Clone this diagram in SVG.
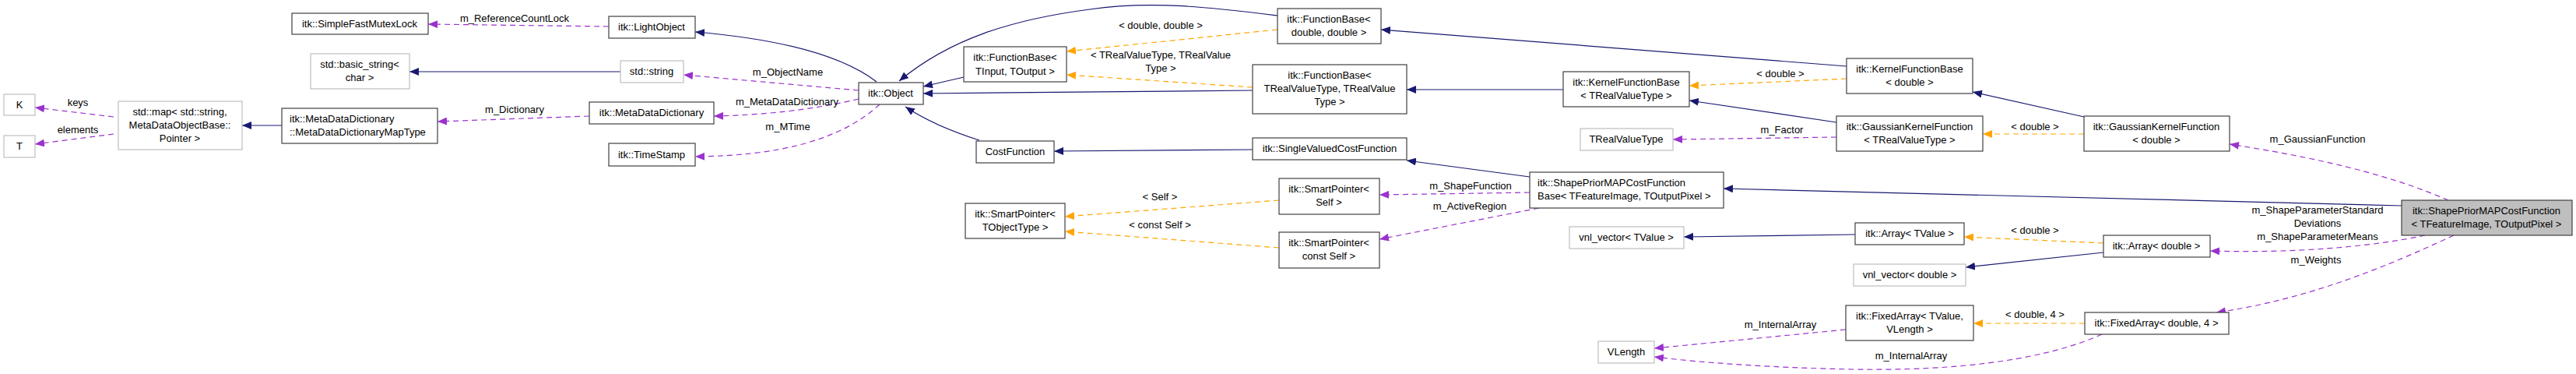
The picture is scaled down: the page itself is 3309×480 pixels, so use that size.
<svg xmlns="http://www.w3.org/2000/svg" width="3309" height="480" viewBox="0 0 3309 480">
<style>
text{font-family:"Liberation Sans",Arial,sans-serif;font-size:13px;fill:#000}
.n rect{fill:#fff;stroke:#404040;stroke-width:1.2}
.g rect{fill:#fff;stroke:#bfbfbf;stroke-width:1.2}
.m rect{fill:#bfbfbf;stroke:#404040;stroke-width:1.2}
.c{text-anchor:middle}
.b{fill:none;stroke:#191970;stroke-width:1.2}
.p{fill:none;stroke:#9a32cd;stroke-width:1.2;stroke-dasharray:7,5}
.o{fill:none;stroke:#ffa500;stroke-width:1.2;stroke-dasharray:7,5}
.lbl{text-anchor:middle}
</style>
<defs>
<marker id="ab" markerWidth="12" markerHeight="10" refX="12" refY="5" orient="auto" markerUnits="userSpaceOnUse"><path d="M0,0 L12,5 L0,10 z" fill="#191970"/></marker>
<marker id="ap" markerWidth="12" markerHeight="10" refX="12" refY="5" orient="auto" markerUnits="userSpaceOnUse"><path d="M0,0 L12,5 L0,10 z" fill="#9a32cd"/></marker>
<marker id="ao" markerWidth="12" markerHeight="10" refX="12" refY="5" orient="auto" markerUnits="userSpaceOnUse"><path d="M0,0 L12,5 L0,10 z" fill="#ffa500"/></marker>
</defs>
<g id="connectors">
<path class="p" marker-end="url(#ap)" d="M782,34 L550,31"/>
<text class="lbl" x="661" y="28">m_ReferenceCountLock</text>
<path class="b" marker-end="url(#ab)" d="M797,92 L526,92"/>
<path class="p" marker-end="url(#ap)" d="M146,150 L45,138"/>
<text class="lbl" x="100" y="136">keys</text>
<path class="p" marker-end="url(#ap)" d="M146,172 L45,185"/>
<text class="lbl" x="100" y="171">elements</text>
<path class="b" marker-end="url(#ab)" d="M362,161 L311,161"/>
<path class="p" marker-end="url(#ap)" d="M757,149 L562,156"/>
<text class="lbl" x="661" y="145">m_Dictionary</text>
<path class="b" marker-end="url(#ab)" d="M1126,105 C1080,70 1000,50 893,41"/>
<path class="p" marker-end="url(#ap)" d="M1103,116 L878,96"/>
<text class="lbl" x="1012" y="97">m_ObjectName</text>
<path class="p" marker-end="url(#ap)" d="M1103,127 C1050,140 980,148 917,149"/>
<text class="lbl" x="1011" y="135">m_MetaDataDictionary</text>
<path class="p" marker-end="url(#ap)" d="M1130,134 C1080,180 1000,200 893,201"/>
<text class="lbl" x="1012" y="167">m_MTime</text>
<path class="b" marker-end="url(#ab)" d="M1238,99 L1186,111"/>
<path class="b" marker-end="url(#ab)" d="M1641,20 C1560,10 1480,0 1400,12 C1300,25 1220,50 1155,104"/>
<path class="b" marker-end="url(#ab)" d="M1609,116 L1186,120"/>
<path class="b" marker-end="url(#ab)" d="M1258,180 C1220,168 1190,155 1163,137"/>
<path class="o" marker-end="url(#ao)" d="M1641,38 L1370,66"/>
<text class="lbl" x="1491" y="37">&lt; double, double &gt;</text>
<path class="o" marker-end="url(#ao)" d="M1609,112 L1370,96"/>
<text class="lbl" x="1491" y="75">&lt; TRealValueType, TRealValue</text>
<text class="lbl" x="1491" y="92">Type &gt;</text>
<path class="b" marker-end="url(#ab)" d="M1609,192 L1354,194"/>
<path class="o" marker-end="url(#ao)" d="M1643,257 L1368,278"/>
<text class="lbl" x="1490" y="257">&lt; Self &gt;</text>
<path class="o" marker-end="url(#ao)" d="M1643,318 L1368,297"/>
<text class="lbl" x="1490" y="293">&lt; const Self &gt;</text>
<path class="b" marker-end="url(#ab)" d="M2372,85 L1774,38"/>
<path class="b" marker-end="url(#ab)" d="M2008,115 L1807,115"/>
<path class="b" marker-end="url(#ab)" d="M1965,227 L1807,206"/>
<path class="p" marker-end="url(#ap)" d="M1965,247 L1772,250"/>
<text class="lbl" x="1889" y="243">m_ShapeFunction</text>
<path class="p" marker-end="url(#ap)" d="M1977,267 L1772,307"/>
<text class="lbl" x="1888" y="269">m_ActiveRegion</text>
<path class="o" marker-end="url(#ao)" d="M2372,101 L2170,110"/>
<text class="lbl" x="2287" y="99">&lt; double &gt;</text>
<path class="b" marker-end="url(#ab)" d="M2359,157 L2170,129"/>
<path class="p" marker-end="url(#ap)" d="M2359,176 L2149,179"/>
<text class="lbl" x="2289" y="171">m_Factor</text>
<path class="b" marker-end="url(#ab)" d="M2677,150 L2534,118"/>
<path class="o" marker-end="url(#ao)" d="M2677,172 L2547,172"/>
<text class="lbl" x="2614" y="167">&lt; double &gt;</text>
<path class="b" marker-end="url(#ab)" d="M3085,264 L2214,242"/>
<path class="p" marker-end="url(#ap)" d="M3145,257 C3060,220 2960,200 2864,185"/>
<text class="lbl" x="2977" y="183">m_GaussianFunction</text>
<path class="b" marker-end="url(#ab)" d="M2383,301 L2163,304"/>
<path class="o" marker-end="url(#ao)" d="M2702,312 L2523,304"/>
<text class="lbl" x="2614" y="300">&lt; double &gt;</text>
<path class="b" marker-end="url(#ab)" d="M2702,324 L2525,343"/>
<path class="p" marker-end="url(#ap)" d="M3115,302 C3040,318 2940,325 2839,322"/>
<text class="lbl" x="2977" y="274">m_ShapeParameterStandard</text>
<text class="lbl" x="2977" y="291">Deviations</text>
<text class="lbl" x="2977" y="308">m_ShapeParameterMeans</text>
<path class="p" marker-end="url(#ap)" d="M3152,302 C3060,345 2960,385 2847,401"/>
<text class="lbl" x="2975" y="338">m_Weights</text>
<path class="o" marker-end="url(#ao)" d="M2678,415 L2535,415"/>
<text class="lbl" x="2614" y="408">&lt; double, 4 &gt;</text>
<path class="p" marker-end="url(#ap)" d="M2371,423 L2125,447"/>
<text class="lbl" x="2287" y="421">m_InternalArray</text>
<path class="p" marker-end="url(#ap)" d="M2700,429 C2620,465 2500,476 2380,474 C2280,472 2190,466 2125,458"/>
<text class="lbl" x="2455" y="461">m_InternalArray</text>
</g>
<g id="n_mutex" class="n"><rect x="375" y="17" width="175" height="27"/><text class="c" x="462" y="35">itk::SimpleFastMutexLock</text></g>
<g id="n_basicstring" class="g"><rect x="399" y="69" width="127" height="45"/><text class="c" x="462" y="87">std::basic_string&lt;</text><text class="c" x="462" y="104">char &gt;</text></g>
<g id="n_K" class="g"><rect x="5" y="121" width="40" height="27"/><text class="c" x="25" y="139">K</text></g>
<g id="n_T" class="g"><rect x="5" y="174" width="40" height="28"/><text class="c" x="25" y="192">T</text></g>
<g id="n_map" class="g"><rect x="152" y="130" width="159" height="62"/><text class="c" x="231" y="148">std::map&lt; std::string,</text><text class="c" x="231" y="165">MetaDataObjectBase::</text><text class="c" x="231" y="182">Pointer &gt;</text></g>
<g id="n_maptype" class="n"><rect x="362" y="139" width="200" height="45"/><text x="372" y="157">itk::MetaDataDictionary</text><text x="372" y="174">::MetaDataDictionaryMapType</text></g>
<g id="n_light" class="n"><rect x="782" y="21" width="111" height="28"/><text class="c" x="837" y="39">itk::LightObject</text></g>
<g id="n_string" class="g"><rect x="797" y="78" width="81" height="28"/><text class="c" x="837" y="96">std::string</text></g>
<g id="n_mdd" class="n"><rect x="757" y="131" width="160" height="28"/><text class="c" x="837" y="149">itk::MetaDataDictionary</text></g>
<g id="n_timestamp" class="n"><rect x="782" y="184" width="111" height="29"/><text class="c" x="837" y="203">itk::TimeStamp</text></g>
<g id="n_object" class="n"><rect x="1103" y="106" width="83" height="28"/><text class="c" x="1144" y="124">itk::Object</text></g>
<g id="n_fbio" class="n"><rect x="1238" y="60" width="132" height="45"/><text class="c" x="1304" y="78">itk::FunctionBase&lt;</text><text class="c" x="1304" y="96">TInput, TOutput &gt;</text></g>
<g id="n_cost" class="n"><rect x="1254" y="181" width="100" height="28"/><text class="c" x="1304" y="199">CostFunction</text></g>
<g id="n_spobj" class="n"><rect x="1240" y="261" width="128" height="45"/><text class="c" x="1304" y="279">itk::SmartPointer&lt;</text><text class="c" x="1304" y="296">TObjectType &gt;</text></g>
<g id="n_fbdd" class="n"><rect x="1641" y="11" width="133" height="45"/><text class="c" x="1707" y="29">itk::FunctionBase&lt;</text><text class="c" x="1707" y="46">double, double &gt;</text></g>
<g id="n_fbrv" class="n"><rect x="1609" y="83" width="198" height="63"/><text class="c" x="1708" y="101">itk::FunctionBase&lt;</text><text class="c" x="1708" y="118">TRealValueType, TRealValue</text><text class="c" x="1708" y="135">Type &gt;</text></g>
<g id="n_svcf" class="n"><rect x="1609" y="177" width="198" height="28"/><text class="c" x="1708" y="195">itk::SingleValuedCostFunction</text></g>
<g id="n_spself" class="n"><rect x="1643" y="229" width="129" height="46"/><text class="c" x="1707" y="247">itk::SmartPointer&lt;</text><text class="c" x="1707" y="264">Self &gt;</text></g>
<g id="n_spcself" class="n"><rect x="1643" y="298" width="129" height="46"/><text class="c" x="1707" y="316">itk::SmartPointer&lt;</text><text class="c" x="1707" y="333">const Self &gt;</text></g>
<g id="n_kfbrv" class="n"><rect x="2008" y="92" width="162" height="45"/><text class="c" x="2089" y="110">itk::KernelFunctionBase</text><text class="c" x="2089" y="127">&lt; TRealValueType &gt;</text></g>
<g id="n_trvt" class="g"><rect x="2030" y="165" width="119" height="28"/><text class="c" x="2089" y="183">TRealValueType</text></g>
<g id="n_spbase" class="n"><rect x="1965" y="221" width="249" height="46"/><text x="1975" y="239">itk::ShapePriorMAPCostFunction</text><text x="1975" y="256">Base&lt; TFeatureImage, TOutputPixel &gt;</text></g>
<g id="n_vnltv" class="g"><rect x="2016" y="291" width="147" height="28"/><text class="c" x="2089" y="309">vnl_vector&lt; TValue &gt;</text></g>
<g id="n_vlength" class="g"><rect x="2053" y="438" width="72" height="28"/><text class="c" x="2089" y="456">VLength</text></g>
<g id="n_kfbd" class="n"><rect x="2372" y="75" width="162" height="45"/><text class="c" x="2453" y="93">itk::KernelFunctionBase</text><text class="c" x="2453" y="110">&lt; double &gt;</text></g>
<g id="n_gkrv" class="n"><rect x="2359" y="149" width="188" height="45"/><text class="c" x="2453" y="167">itk::GaussianKernelFunction</text><text class="c" x="2453" y="184">&lt; TRealValueType &gt;</text></g>
<g id="n_arrtv" class="n"><rect x="2383" y="286" width="140" height="28"/><text class="c" x="2453" y="304">itk::Array&lt; TValue &gt;</text></g>
<g id="n_vnld" class="g"><rect x="2381" y="339" width="144" height="28"/><text class="c" x="2453" y="357">vnl_vector&lt; double &gt;</text></g>
<g id="n_fatv" class="n"><rect x="2371" y="392" width="164" height="45"/><text class="c" x="2453" y="410">itk::FixedArray&lt; TValue,</text><text class="c" x="2453" y="427">VLength &gt;</text></g>
<g id="n_gkd" class="n"><rect x="2677" y="149" width="187" height="45"/><text class="c" x="2770" y="167">itk::GaussianKernelFunction</text><text class="c" x="2770" y="184">&lt; double &gt;</text></g>
<g id="n_arrd" class="n"><rect x="2702" y="302" width="137" height="28"/><text class="c" x="2770" y="320">itk::Array&lt; double &gt;</text></g>
<g id="n_fad4" class="n"><rect x="2678" y="401" width="185" height="28"/><text class="c" x="2770" y="419">itk::FixedArray&lt; double, 4 &gt;</text></g>
<g id="n_main" class="m"><rect x="3085" y="257" width="219" height="45"/><text class="c" x="3194" y="275">itk::ShapePriorMAPCostFunction</text><text class="c" x="3194" y="292">&lt; TFeatureImage, TOutputPixel &gt;</text></g>
</svg>
